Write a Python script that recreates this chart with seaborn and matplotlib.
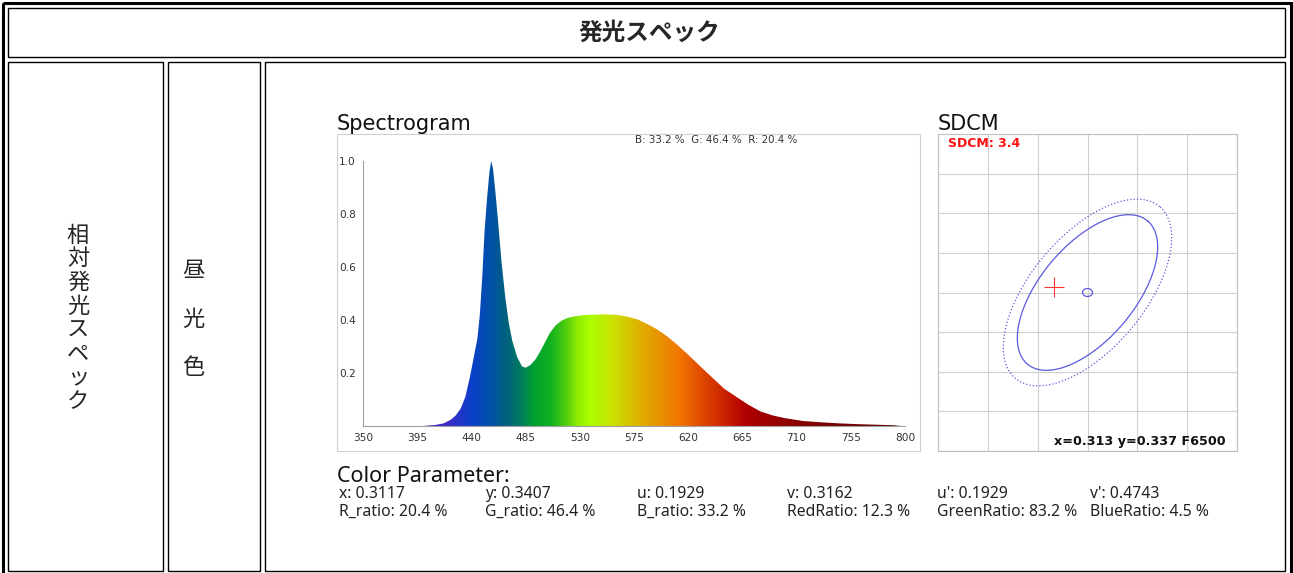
import numpy as np
import matplotlib
matplotlib.use('Agg')
import matplotlib.pyplot as plt
import seaborn as sns
from matplotlib.colors import LinearSegmentedColormap
from matplotlib.patches import Rectangle, Polygon, Ellipse

sns.set_style('white')
plt.rcParams['font.family'] = ['DejaVu Sans', 'Noto Sans CJK JP']

# --- data ---
wavelength = [400, 410, 417, 423, 427, 431, 435, 439, 442, 445, 447, 449, 451, 453, 455,
              456.5, 458, 460, 462, 465, 468, 471, 474, 478, 482, 485, 489, 493, 497, 501,
              505, 510, 515, 520, 526, 532, 540, 550, 560, 570, 578, 586, 594, 602, 610,
              618, 626, 634, 642, 650, 660, 670, 680, 690, 700, 715, 730, 745, 760, 775,
              790, 797]
intensity = [0.0, 0.004, 0.01, 0.024, 0.04, 0.065, 0.11, 0.19, 0.26, 0.33, 0.42, 0.56,
             0.74, 0.86, 0.96, 1.0, 0.97, 0.88, 0.78, 0.62, 0.49, 0.39, 0.32, 0.26, 0.225,
             0.22, 0.23, 0.25, 0.28, 0.315, 0.35, 0.38, 0.398, 0.408, 0.414, 0.418, 0.42,
             0.421, 0.42, 0.412, 0.402, 0.385, 0.365, 0.34, 0.31, 0.277, 0.243, 0.208,
             0.174, 0.14, 0.11, 0.08, 0.055, 0.04, 0.03, 0.019, 0.014, 0.01, 0.007, 0.005,
             0.003, 0.0]
x_ticks = [350, 395, 440, 485, 530, 575, 620, 665, 710, 755, 800]
y_ticks = [0.2, 0.4, 0.6, 0.8, 1.0]
rgb_share = 'B: 33.2 %  G: 46.4 %  R: 20.4 %'

param_row1 = ['x: 0.3117', 'y: 0.3407', 'u: 0.1929', 'v: 0.3162', "u': 0.1929", "v': 0.4743"]
param_row2 = ['R_ratio: 20.4 %', 'G_ratio: 46.4 %', 'B_ratio: 33.2 %',
              'RedRatio: 12.3 %', 'GreenRatio: 83.2 %', 'BlueRatio: 4.5 %']

sdcm_label = 'SDCM: 3.4'
sdcm_ref = 'x=0.313 y=0.337 F6500'
sdcm_center = (3.0, 4.0)          # grid units
sdcm_point = (2.32, 4.14)         # measured point, grid units
step_ellipse = (93.5, 47.3, 50)   # semi axes (px) and tilt (deg)
step_scale = [1.0, 1.2]           # solid and dotted ellipse

title_jp = '発光スペック'
col1_jp = '相対発光スペック'
col2_jp = '昼光色'

# wavelength -> colour for the spectrum fill
spec_stops = [(350, '#5020b0'), (420, '#3a2cc8'), (440, '#0a40c8'), (455, '#0050a8'),
              (468, '#00607f'), (480, '#007a62'), (492, '#00a030'), (505, '#10b020'),
              (518, '#50cc10'), (528, '#90ec00'), (538, '#aaff00'), (558, '#cce000'),
              (580, '#e0b000'), (597, '#e89000'), (612, '#f07800'), (632, '#e04800'),
              (652, '#c82000'), (668, '#b00000'), (700, '#900000'), (740, '#780000'),
              (800, '#600000')]

W, H = 1293, 573
fig = plt.figure(figsize=(W / 100, H / 100), dpi=100)

bg = fig.add_axes([0, 0, 1, 1])
bg.set_xlim(0, W)
bg.set_ylim(H, 0)
bg.axis('off')


def px_axes(l, t, r, b):
    return fig.add_axes([l / W, 1 - b / H, (r - l) / W, (b - t) / H])


# table frame
bg.add_patch(Rectangle((2.5, 2.5), W - 5, H + 2, fill=False, lw=2.2, ec='black'))
for (l, t, r, b) in [(8, 8, 1285, 57), (8, 62, 163, 571), (168, 62, 260, 571), (265, 62, 1285, 571)]:
    bg.add_patch(Rectangle((l, t), r - l, b - t, fill=False, lw=1.0, ec='black'))

bg.text(649, 33, title_jp, ha='center', va='center', fontsize=17, fontweight='bold',
        family=['Noto Sans CJK JP', 'DejaVu Sans'])
for i, ch in enumerate(col1_jp):
    bg.text(78, 235 + i * 23.8, ch, ha='center', va='center', fontsize=16,
            family=['Noto Sans CJK JP', 'DejaVu Sans'])
for i, ch in enumerate(col2_jp):
    bg.text(193, 271 + i * 48.5, ch, ha='center', va='center', fontsize=16,
            family=['Noto Sans CJK JP', 'DejaVu Sans'])

# panel frames and titles
bg.add_patch(Rectangle((337, 134), 583, 317, fill=False, lw=0.8, ec='#d0d0d0'))
bg.text(337, 130, 'Spectrogram', fontsize=15, va='baseline', color='#111')
bg.text(938, 130, 'SDCM', fontsize=15, va='baseline', color='#111')
bg.text(716, 140, rgb_share, fontsize=7.4, ha='center', va='center', color='#333')

# --- spectrogram ---
ax = px_axes(363, 161, 905, 426)
ax.set_xlim(350, 800)
ax.set_ylim(0, 1.0)
cmap = LinearSegmentedColormap.from_list(
    'spec', [((w - 350) / 450, c) for w, c in spec_stops])
grad = np.linspace(0, 1, 900)[np.newaxis, :]
im = ax.imshow(grad, cmap=cmap, extent=[350, 800, 0, 1.0], aspect='auto',
               interpolation='bilinear', zorder=1)
verts = np.column_stack([wavelength + wavelength[::-1],
                         intensity + [0.0] * len(wavelength)])
poly = Polygon(verts, closed=True, facecolor='none', edgecolor='none',
               transform=ax.transData)
ax.add_patch(poly)
im.set_clip_path(poly)

ax.set_xticks(x_ticks)
ax.set_yticks(y_ticks)
ax.set_yticklabels([f'{v:.1f}' for v in y_ticks])
for s in ['top', 'right']:
    ax.spines[s].set_visible(False)
for s in ['left', 'bottom']:
    ax.spines[s].set_color('#a0a0a0')
    ax.spines[s].set_linewidth(0.8)
ax.tick_params(axis='x', direction='in', length=3, width=0.7, color='#999',
               labelsize=7.6, labelcolor='#333', pad=5)
ax.tick_params(axis='y', direction='out', length=3, width=0.7, color='#999',
               labelsize=7.6, labelcolor='#333', pad=2)
ax.set_facecolor('none')

# --- SDCM ---
sx = px_axes(938, 134, 1237, 451)
sx.set_xlim(0, 6)
sx.set_ylim(0, 8)
sx.set_xticks(range(0, 7))
sx.set_yticks(range(0, 9))
sx.tick_params(length=0, labelbottom=False, labelleft=False)
sx.grid(True, color='#cfcfcf', lw=0.8)
for s in sx.spines.values():
    s.set_color('#c0c0c0')
    s.set_linewidth(0.8)

px_u = 299 / 6
px_v = 317 / 8
a, b, ang = step_ellipse
th = np.deg2rad(ang)
t = np.linspace(0, 2 * np.pi, 241)
for k, ls in zip(step_scale, ['-', ':']):
    ex = k * (a * np.cos(t) * np.cos(th) - b * np.sin(t) * np.sin(th))
    ey = k * (a * np.cos(t) * np.sin(th) + b * np.sin(t) * np.cos(th))
    sns.lineplot(x=sdcm_center[0] + ex / px_u, y=sdcm_center[1] + ey / px_v, ax=sx,
                 sort=False, estimator=None, color='#5a5ae0', lw=0.9, linestyle=ls)
sx.add_patch(Ellipse(sdcm_center, 10 / px_u, 8 / px_v, fill=False, ec='#5a5ae0', lw=0.9))
sx.plot([sdcm_point[0]], [sdcm_point[1]], marker='+', ms=14, mew=0.8, color='#ff3030')
sx.text(0.2, 7.75, sdcm_label, color='#ff1010', fontsize=9, fontweight='bold',
        va='center')
sx.text(5.78, 0.23, sdcm_ref, color='#111', fontsize=9.2, fontweight='bold',
        ha='right', va='center')

# --- colour parameters ---
bg.text(337, 477, 'Color Parameter:', fontsize=15.5, va='center', family='Noto Sans', color='#111')
col_x = [339, 485, 637, 787, 937, 1090]
for x, s1, s2 in zip(col_x, param_row1, param_row2):
    bg.text(x, 494, s1, fontsize=11.3, va='center', family='Noto Sans', color='#222')
    bg.text(x, 512, s2, fontsize=11.3, va='center', family='Noto Sans', color='#222')

fig.savefig('out.png', dpi=100)
